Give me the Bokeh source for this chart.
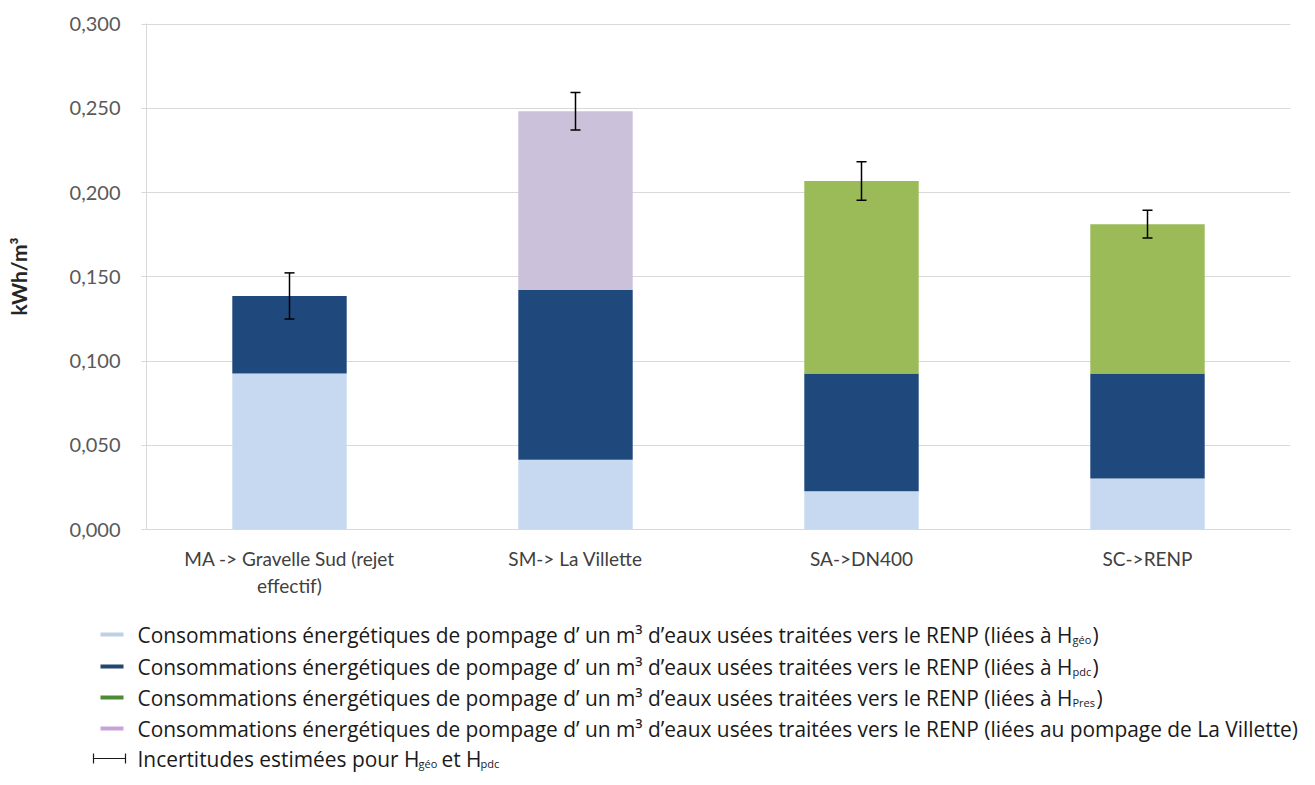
from bokeh.plotting import figure
from bokeh.models import ColumnDataSource, FactorRange, Range1d, FixedTicker, Whisker, TeeHead
from bokeh.layouts import column
from bokeh.embed import file_html
from bokeh.resources import INLINE
from bokeh.core.properties import value

# ---------------- data ----------------
categories = ["MA -> Gravelle Sud (rejet\neffectif)", "SM-> La Villette", "SA->DN400", "SC->RENP"]
geo = [0.0926, 0.0414, 0.0227, 0.0303]        # liées à H géo
pdc = [0.0460, 0.1007, 0.0699, 0.0623]        # liées à H pdc
pres = [0.0, 0.0, 0.1142, 0.0886]             # liées à H Pres
villette = [0.0, 0.1061, 0.0, 0.0]            # liées au pompage de La Villette
err = [0.0137, 0.0111, 0.0114, 0.0082]        # incertitudes
y_ticks = [0.0, 0.05, 0.1, 0.15, 0.2, 0.25, 0.3]
y_tick_labels = ["0,000", "0,050", "0,100", "0,150", "0,200", "0,250", "0,300"]
series_main = "Consommations énergétiques de pompage d’ un m³ d’eaux usées traitées vers le RENP "
series_tail = ["(liées à H", "(liées à H", "(liées à H", "(liées au  pompage de La Villette)"]
series_sub = ["géo", "pdc", "Pres", ""]
err_label = ["Incertitudes estimées pour H", "géo", "et H", "pdc"]

colors = ["#C6D9F1", "#1F497D", "#9BBB59", "#CCC1DA"]
legend_colors = ["#BFD0E6", "#24476F", "#4C8A33", "#C7A3D9"]
AX_FONT = "Lato"
LG_FONT = "Open Sans"
LG_SIZE = "20.9px"
SUB_SIZE = "11px"
TXT = "#1A1A1A"

totals = [a + b + c + d for a, b, c, d in zip(geo, pdc, pres, villette)]
src = ColumnDataSource(dict(
    cat=categories, geo=geo, pdc=pdc, pres=pres, villette=villette,
    upper=[t + e for t, e in zip(totals, err)],
    lower=[t - e for t, e in zip(totals, err)],
))

W = 1299
H_MAIN = 600
H_LEG = 180

# ---------------- main chart ----------------
p = figure(x_range=FactorRange(*categories), y_range=Range1d(0, 0.3003),
           width=W, height=H_MAIN, output_backend="svg", toolbar_location=None,
           min_border_left=146, min_border_right=9, min_border_top=23, min_border_bottom=62)
p.outline_line_color = None
p.frame_align = False

p.vbar_stack(["geo", "pdc", "pres", "villette"], x="cat", width=0.4, color=colors,
             line_color=None, source=src)

w = Whisker(base="cat", upper="upper", lower="lower", source=src, level="overlay",
            line_color="black", line_width=1.5,
            upper_head=TeeHead(size=10, line_color="black", line_width=1.5),
            lower_head=TeeHead(size=10, line_color="black", line_width=1.5))
p.add_layout(w)

p.xgrid.grid_line_color = None
p.ygrid.grid_line_color = "#D9D9D9"
p.ygrid.grid_line_width = 1

p.yaxis.ticker = FixedTicker(ticks=y_ticks)
p.yaxis.major_label_overrides = dict(zip(y_ticks, y_tick_labels))
p.yaxis.minor_tick_line_color = None
p.yaxis.major_tick_line_color = "#D9D9D9"
p.yaxis.major_tick_out = 5
p.yaxis.major_tick_in = 0
p.yaxis.axis_line_color = "#D9D9D9"
p.yaxis.major_label_standoff = 21
p.yaxis.major_label_text_font = AX_FONT
p.yaxis.major_label_text_font_size = "20px"
p.yaxis.major_label_text_color = "#595959"
p.yaxis.axis_label = "kWh/m³"
p.yaxis.axis_label_text_font = AX_FONT
p.yaxis.axis_label_text_font_size = "21px"
p.yaxis.axis_label_text_font_style = "bold"
p.yaxis.axis_label_text_color = "#262626"
p.yaxis.axis_label_standoff = 36

p.xaxis.axis_line_color = "#D9D9D9"
p.xaxis.major_tick_line_color = None
p.xaxis.minor_tick_line_color = None
p.xaxis.major_label_standoff = 11
p.xaxis.major_label_text_font = AX_FONT
p.xaxis.major_label_text_font_size = "19px"
p.xaxis.major_label_text_color = "#404040"

# ---------------- legend panel (pixel coordinates) ----------------
lg = figure(width=W, height=H_LEG, x_range=Range1d(0, W), y_range=Range1d(H_LEG, 0),
            output_backend="svg", toolbar_location=None, x_axis_type=None, y_axis_type=None,
            min_border=0, min_border_left=0, min_border_right=0,
            min_border_top=0, min_border_bottom=0)
lg.outline_line_color = None
lg.xgrid.visible = False
lg.ygrid.visible = False
lg.frame_align = False

row_y = [34, 66, 97, 128]
lg.segment(x0=[100] * 4, y0=row_y, x1=[123] * 4, y1=row_y, line_color=legend_colors, line_width=4)
lg.text(x=[137] * 4, y=row_y, text=[series_main + t for t in series_tail],
        text_font=value(LG_FONT), text_font_size=LG_SIZE, text_baseline="middle", text_color=TXT)
lg.text(x=[1072] * 3, y=[r + 5 for r in row_y[:3]], text=series_sub[:3],
        text_font=value(LG_FONT), text_font_size=SUB_SIZE, text_baseline="middle", text_color=TXT)
lg.text(x=[1092, 1092, 1096], y=row_y[:3], text=[")"] * 3,
        text_font=value(LG_FONT), text_font_size=LG_SIZE, text_baseline="middle", text_color=TXT)

ey = 158
lg.segment(x0=[93, 93, 125], y0=[ey, ey - 5, ey - 5], x1=[125, 93, 125], y1=[ey, ey + 5, ey + 5],
           line_color=TXT, line_width=1.2)
lg.text(x=[137, 441], y=[ey, ey], text=[err_label[0], err_label[2]],
        text_font=value(LG_FONT), text_font_size=LG_SIZE, text_baseline="middle", text_color=TXT)
lg.text(x=[418, 480], y=[ey + 5, ey + 5], text=[err_label[1], err_label[3]],
        text_font=value(LG_FONT), text_font_size=SUB_SIZE, text_baseline="middle", text_color=TXT)

layout = column(p, lg, spacing=0)
open("out.html", "w").write(file_html(layout, INLINE))
